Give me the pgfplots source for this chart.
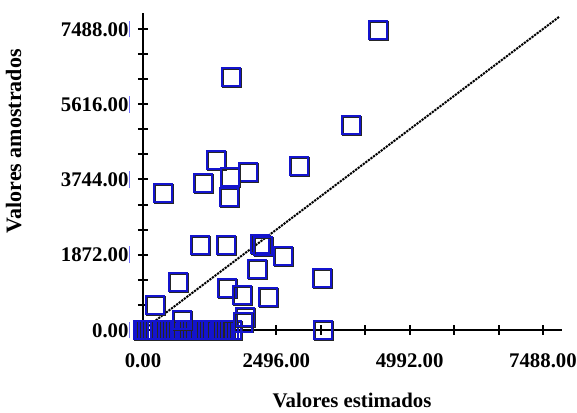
\documentclass[border=0pt]{standalone}
\usepackage{fontspec}
\setmainfont{Liberation Serif}
\usepackage{pgfplots}
\pgfplotsset{compat=1.18}
\definecolor{mk}{RGB}{20,20,205}
\newcommand{\lbl}{\bfseries\fontsize{10.4}{12}\selectfont}
\newcommand{\tbar}{\textcolor{blue!55}{\rule[-0.6pt]{0.7pt}{8.4pt}}}
% open square, blue over a slightly offset dark one
\pgfdeclareplotmark{bsq}{%
  \pgfpathrectanglecorners{\pgfpoint{-\pgfplotmarksize+0.4pt}{-\pgfplotmarksize-0.4pt}}{\pgfpoint{\pgfplotmarksize+0.4pt}{\pgfplotmarksize-0.4pt}}%
  \pgfsetstrokecolor{black!85}\pgfusepathqstroke
  \pgfpathrectanglecorners{\pgfpoint{-\pgfplotmarksize}{-\pgfplotmarksize}}{\pgfpoint{\pgfplotmarksize}{\pgfplotmarksize}}%
  \pgfsetstrokecolor{mk}\pgfusepathqstroke
}
\begin{document}
\begin{tikzpicture}
\begin{axis}[
    scale only axis,
    width=214.5pt, height=158.5pt,
    axis lines=middle,
    axis line style={-, line width=1pt},
    every inner x axis line/.append style={-},
    every inner y axis line/.append style={-},
    xmin=-187, xmax=7844,
    ymin=0, ymax=7886,
    clip=false,
    hide obscured x ticks=false,
    hide obscured y ticks=false,
    xtick={0,2496,4992,7488},
    xticklabels={0.00,2496.00,4992.00,7488.00},
    minor xtick={832,1664,3328,4160,5824,6656},
    ytick={0,1872,3744,5616,7488},
    yticklabels={0.00\tbar,1872.00\tbar,3744.00\tbar,5616.00\tbar,7488.00\tbar},
    minor ytick={624,1248,2496,3120,4368,4992,6240,6864},
    tick align=center,
    major tick length=5pt,
    minor tick length=5pt,
    tick style={black, line width=1pt},
    minor tick style={black, line width=1pt},
    ticklabel style={font=\lbl},
    xticklabel style={anchor=north, yshift=-6pt},
    yticklabel style={anchor=east, xshift=-0.5pt},
]
% dense run of zero values
\addplot[only marks, mark=bsq, mark size=4.6pt, line width=1pt] coordinates {
    (0,0) (50,0) (100,0) (160,0) (210,0) (260,0) (320,0) (370,0) (420,0)
    (480,0) (530,0) (580,0) (640,0) (690,0) (740,0) (800,0) (850,0)
    (900,0) (960,0) (1010,0) (1060,0) (1120,0) (1170,0) (1220,0)
    (1280,0) (1330,0) (1380,0) (1440,0) (1490,0) (1540,0) (1600,0)
    (1660,0) (3370,0)
};
% other points
\addplot[only marks, mark=bsq, mark size=4.6pt, line width=1pt] coordinates {
    (4399,7463) (1647,6294) (3894,5100) (2920,4080) (1966,3930)
    (1367,4229) (1123,3657) (1629,3806) (1610,3308) (374,3408)
    (1067,2115) (1554,2115) (2190,2140) (2246,2090) (2621,1841)
    (2134,1518) (3351,1294) (655,1194) (1573,1045) (1853,871)
    (2340,821) (225,622) (1909,323) (730,249) (1872,190)
};
% y = x
\addplot[black, line width=1pt, dash pattern=on 1.1pt off 0.5pt] coordinates {
    (0,0) (7800,7800)
};
\node[font=\lbl] at (rel axis cs:0.5105,-0.2208) {Valores estimados};
\node[font=\bfseries\fontsize{11}{13}\selectfont, rotate=90] at (rel axis cs:-0.278,0.595) {Valores amostrados};
\coordinate (bl) at (rel axis cs:-0.310,-0.2618);
\coordinate (tr) at (rel axis cs:1.035,1.041);
\end{axis}
\pgfresetboundingbox
\path[use as bounding box] (bl) rectangle (tr);
\end{tikzpicture}
\end{document}
